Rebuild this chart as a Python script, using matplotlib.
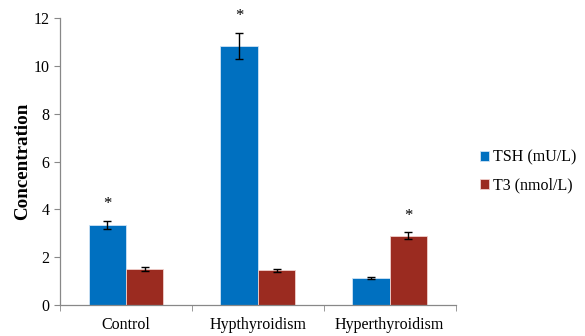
import numpy as np
import matplotlib
matplotlib.use('Agg')
import matplotlib.pyplot as plt

plt.rcParams['font.family'] = ['Liberation Serif', 'DejaVu Serif']

# dane
groups = ['Control', 'Hypthyroidism', 'Hyperthyroidism']
tsh = [3.35, 10.85, 1.12]
tsh_err = [0.17, 0.54, 0.05]
t3 = [1.50, 1.45, 2.90]
t3_err = [0.07, 0.07, 0.14]
# gwiazdki: (seria, grupa)
stars = [('tsh', 0), ('tsh', 1), ('t3', 2)]

fig = plt.figure(figsize=(5.85, 3.36), dpi=100)
ax = fig.add_axes([0.1026, 0.0923, 0.6764, 0.8537])

x = np.arange(len(groups))
w = 0.284
blue = '#0070C0'
red = '#9B2B20'

ax.bar(x - w / 2, tsh, w, color=blue, edgecolor='#cfe3f5', linewidth=0.6,
       yerr=tsh_err, capsize=3, error_kw=dict(elinewidth=1, capthick=1, ecolor='black'),
       label='TSH (mU/L)')
ax.bar(x + w / 2, t3, w, color=red, edgecolor='#f0d0cc', linewidth=0.6,
       yerr=t3_err, capsize=3, error_kw=dict(elinewidth=1, capthick=1, ecolor='black'),
       label='T3 (nmol/L)')

for s, i in stars:
    if s == 'tsh':
        xi, top = x[i] - w / 2, tsh[i] + tsh_err[i]
    else:
        xi, top = x[i] + w / 2, t3[i] + t3_err[i]
    ax.text(xi, top + 0.35, '*', ha='center', va='bottom', fontsize=12)

ax.set_xlim(-0.5, len(groups) - 0.5)
ax.set_ylim(0, 12)
ax.set_yticks(range(0, 13, 2))
ax.set_xticks(x)
ax.set_xticklabels(groups, fontsize=11.5)
ax.set_xticks(np.arange(len(groups) + 1) - 0.5, minor=True)
ax.tick_params(axis='x', which='major', length=0, pad=9)
ax.tick_params(axis='x', which='minor', length=4, color='#888888', direction='out')
ax.tick_params(axis='y', length=4, color='#888888', labelsize=11.5, direction='out')

for sp in ['top', 'right']:
    ax.spines[sp].set_visible(False)
for sp in ['left', 'bottom']:
    ax.spines[sp].set_color('#888888')
    ax.spines[sp].set_linewidth(0.9)

ax.set_ylabel('Concentration', fontsize=13.7, fontweight='bold', labelpad=2)

ax.legend(loc='center left', bbox_to_anchor=(1.025, 0.465), frameon=False,
          fontsize=11.5, handlelength=0.55, handleheight=0.55, handletextpad=0.25,
          labelspacing=0.75)

fig.savefig('out.png', dpi=100)
